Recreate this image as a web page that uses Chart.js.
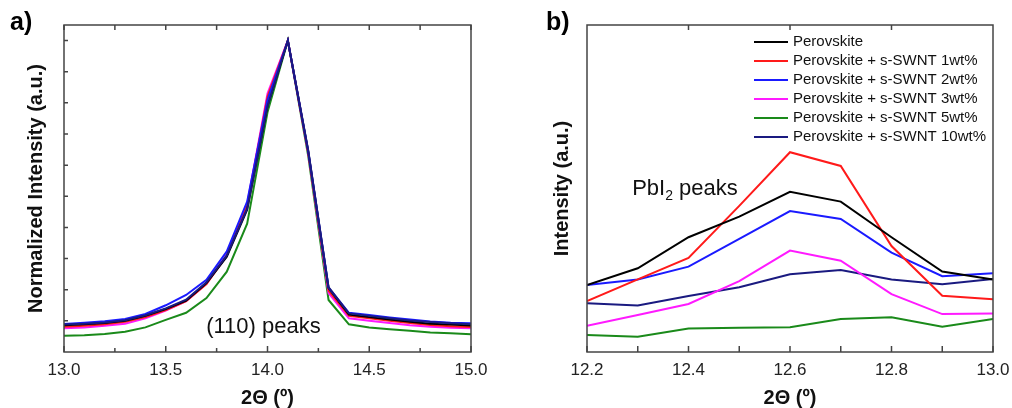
<!DOCTYPE html>
<html lang="en">
<head>
<meta charset="utf-8">
<script src="https://cdn.jsdelivr.net/npm/chart.js"></script>
<style>
  body { margin: 0; background: #fff; width: 1012px; height: 408px; overflow: hidden;
         font-family: 'Liberation Sans', Arial, sans-serif; }
  .panel { position: absolute; top: 0; height: 408px; }
  .tag { position: absolute; font-weight: bold; font-size: 25px; color: #000; }
</style>
</head>
<body>
<div class="panel" style="left:0;width:500px"><canvas id="chartA" width="500" height="408" style="width:500px;height:408px"></canvas></div>
<div class="panel" style="left:500px;width:512px"><canvas id="chartB" width="512" height="408" style="width:512px;height:408px"></canvas></div>
<div class="tag" style="left:10px;top:7px">a)</div>
<div class="tag" style="left:546px;top:7px">b)</div>

<script>
// ---- data ----
const seriesNames = ['Perovskite', 'Perovskite + s-SWNT 1wt%', 'Perovskite + s-SWNT 2wt%',
                     'Perovskite + s-SWNT 3wt%', 'Perovskite + s-SWNT 5wt%', 'Perovskite + s-SWNT 10wt%'];
const seriesColors = ['#000000', '#ff1a1a', '#1a1aff', '#ff1aff', '#1a8a1a', '#1a1a80'];

// panel a: (110) peak, normalized
const thetaA = [13.0, 13.1, 13.2, 13.3, 13.4, 13.5, 13.6, 13.7, 13.8, 13.9, 14.0,
                14.1, 14.2, 14.3, 14.4, 14.5, 14.6, 14.7, 14.8, 14.9, 15.0];
const aPero  = [0.086, 0.089, 0.093, 0.100, 0.116, 0.138, 0.165, 0.221, 0.306, 0.457, 0.790,
                1.000, 0.645, 0.205, 0.120, 0.112, 0.104, 0.097, 0.091, 0.088, 0.085];
const aWt1   = [0.081, 0.084, 0.089, 0.097, 0.112, 0.135, 0.163, 0.218, 0.310, 0.470, 0.820,
                1.000, 0.640, 0.197, 0.116, 0.108, 0.100, 0.093, 0.087, 0.083, 0.080];
const aWt2   = [0.090, 0.094, 0.099, 0.106, 0.122, 0.150, 0.183, 0.232, 0.323, 0.483, 0.810,
                1.000, 0.645, 0.207, 0.126, 0.119, 0.111, 0.104, 0.098, 0.094, 0.092];
const aWt3   = [0.076, 0.079, 0.084, 0.091, 0.108, 0.133, 0.163, 0.219, 0.312, 0.475, 0.830,
                1.000, 0.640, 0.189, 0.108, 0.100, 0.093, 0.086, 0.081, 0.078, 0.076];
const aWt5   = [0.052, 0.054, 0.058, 0.065, 0.079, 0.103, 0.126, 0.173, 0.258, 0.412, 0.770,
                1.000, 0.630, 0.167, 0.089, 0.079, 0.073, 0.068, 0.063, 0.060, 0.057];
const aWt10  = [0.088, 0.091, 0.095, 0.102, 0.118, 0.140, 0.168, 0.224, 0.310, 0.460, 0.790,
                1.000, 0.648, 0.208, 0.124, 0.116, 0.108, 0.101, 0.096, 0.092, 0.089];

// panel b: PbI2 peak, arbitrary units
const thetaB = [12.2, 12.3, 12.4, 12.5, 12.6, 12.7, 12.8, 12.9, 13.0];
const bPero  = [20.5, 25.6, 35.1, 41.4, 49.0, 46.0, 35.1, 24.6, 22.2];
const bWt1   = [15.6, 22.2, 28.8, 44.7, 61.1, 56.9, 32.4, 17.2, 16.1];
const bWt2   = [20.5, 22.2, 26.1, 34.6, 43.1, 40.7, 30.4, 23.2, 24.1];
const bWt3   = [ 8.0, 11.3, 14.7, 21.7, 31.0, 27.9, 17.7, 11.6, 11.8];
const bWt5   = [ 5.2,  4.7,  7.2,  7.4,  7.6, 10.1, 10.6,  7.7, 10.1];
const bWt10  = [14.9, 14.2, 17.1, 19.8, 23.8, 25.1, 22.2, 20.7, 22.3];

// ticks
const xLabelsA = [13.0, 13.5, 14.0, 14.5, 15.0];
const xMinorA  = [13.25, 13.75, 14.25, 14.75];
const yTicksA  = [0.1, 0.2, 0.3, 0.4, 0.5, 0.6, 0.7, 0.8, 0.9, 1.0];
const xLabelsB = [12.2, 12.4, 12.6, 12.8, 13.0];
const xMinorB  = [12.3, 12.5, 12.7, 12.9];

const FONT = "'Liberation Sans', Arial, Helvetica, sans-serif";

function toPoints(xs, ys) { return xs.map((x, i) => ({ x: x, y: ys[i] })); }

function makeSets(xs, arrays, orders) {
  return arrays.map((ys, i) => ({
    label: seriesNames[i],
    data: toPoints(xs, ys),
    borderColor: seriesColors[i],
    backgroundColor: seriesColors[i],
    borderWidth: 2,
    pointRadius: 0,
    tension: 0,
    order: orders[i]
  }));
}

// box, inward ticks and the in-plot annotation
function framePlugin(spec) {
  return {
    id: 'frame',
    afterDatasetsDraw(chart) {
      const { ctx, chartArea: a, scales: { x, y } } = chart;
      ctx.save();
      ctx.strokeStyle = '#444';
      ctx.lineWidth = 1.5;
      ctx.strokeRect(a.left, a.top, a.right - a.left, a.bottom - a.top);
      ctx.beginPath();
      spec.bottom.forEach(([v, len]) => {
        const px = x.getPixelForValue(v);
        ctx.moveTo(px, a.bottom); ctx.lineTo(px, a.bottom - len);
      });
      spec.top.forEach(([v, len]) => {
        const px = x.getPixelForValue(v);
        ctx.moveTo(px, a.top); ctx.lineTo(px, a.top + len);
      });
      spec.left.forEach(([v, len]) => {
        const py = y.getPixelForValue(v);
        ctx.moveTo(a.left, py); ctx.lineTo(a.left + len, py);
      });
      ctx.stroke();

      // annotation text
      const n = spec.note;
      const px = x.getPixelForValue(n.x), py = y.getPixelForValue(n.y);
      ctx.fillStyle = '#111';
      ctx.textBaseline = 'alphabetic';
      ctx.font = '22px ' + FONT;
      if (n.sub) {
        ctx.textAlign = 'left';
        let cx = px;
        ctx.fillText(n.text, cx, py); cx += ctx.measureText(n.text).width;
        ctx.font = '14px ' + FONT;
        ctx.fillText(n.sub, cx, py + 5); cx += ctx.measureText(n.sub).width;
        ctx.font = '22px ' + FONT;
        ctx.fillText(n.rest, cx, py);
      } else {
        ctx.textAlign = 'center';
        ctx.fillText(n.text, px, py);
      }
      ctx.restore();
    }
  };
}

const legendPlugin = {
  id: 'inLegend',
  afterDatasetsDraw(chart) {
    const { ctx, chartArea } = chart;
    const x0 = chartArea.left + 167, y0 = chartArea.top + 17;
    ctx.save();
    ctx.font = '15px ' + FONT;
    ctx.textBaseline = 'middle';
    ctx.textAlign = 'left';
    chart.data.datasets.forEach((ds, i) => {
      const yy = y0 + i * 19;
      ctx.strokeStyle = ds.borderColor;
      ctx.lineWidth = 2;
      ctx.beginPath(); ctx.moveTo(x0, yy); ctx.lineTo(x0 + 34, yy); ctx.stroke();
      ctx.fillStyle = '#111';
      ctx.fillText(ds.label, x0 + 39, yy);
    });
    ctx.restore();
  }
};

function xAxis(min, max, labels, title) {
  return {
    type: 'linear', min: min, max: max,
    grid: { display: false, drawTicks: false },
    border: { display: false },
    afterBuildTicks: s => { s.ticks = labels.map(v => ({ value: v })); },
    afterFit: s => { s.height = 56; s.paddingLeft = 0; s.paddingRight = 0; },
    ticks: { padding: 8, color: '#222', font: { family: FONT, size: 17 },
             maxRotation: 0, callback: v => v.toFixed(1) },
    title: { display: true, text: title, color: '#111', padding: { top: 0, bottom: 0 },
             font: { family: FONT, size: 20, weight: 'bold', lineHeight: 1.0 } }
  };
}

function yAxis(min, max, width, title, pad) {
  return {
    type: 'linear', min: min, max: max,
    grid: { display: false, drawTicks: false },
    border: { display: false },
    ticks: { display: false },
    afterFit: s => { s.width = width; },
    title: { display: true, text: title, color: '#111', padding: { top: pad, bottom: 0 },
             font: { family: FONT, size: 20, weight: 'bold' } }
  };
}

const common = {
  responsive: false,
  animation: false,
  plugins: { legend: { display: false }, tooltip: { enabled: false } }
};

new Chart(document.getElementById('chartA'), {
  type: 'line',
  data: { datasets: makeSets(thetaA, [aPero, aWt1, aWt2, aWt3, aWt5, aWt10], [2, 3, 1, 4, 5, 0]) },
  options: Object.assign({}, common, {
    layout: { padding: { top: 25, right: 29, left: 0, bottom: 0 } },
    scales: {
      x: xAxis(13.0, 15.0, xLabelsA, '2\u0398 (\u00BA)'),
      y: yAxis(0, 1.05, 64, 'Normalized Intensity (a.u.)', 24)
    }
  }),
  plugins: [framePlugin({
    bottom: xLabelsA.map(v => [v, 6]).concat(xMinorA.map(v => [v, 4])),
    top: xLabelsA.concat(xMinorA).map(v => [v, 5]),
    left: yTicksA.map(v => [v, 4]),
    note: { x: 13.98, y: 0.06, text: '(110) peaks' }
  })]
});

new Chart(document.getElementById('chartB'), {
  type: 'line',
  data: { datasets: makeSets(thetaB, [bPero, bWt1, bWt2, bWt3, bWt5, bWt10], [0, 1, 2, 3, 4, 5]) },
  options: Object.assign({}, common, {
    layout: { padding: { top: 25, right: 19, left: 0, bottom: 0 } },
    scales: {
      x: xAxis(12.2, 13.0, xLabelsB, '2\u0398 (\u00BA)'),
      y: yAxis(0, 100, 87, 'Intensity (a.u.)', 50)
    }
  }),
  plugins: [framePlugin({
    bottom: xLabelsB.concat(xMinorB).map(v => [v, 6]),
    top: [12.4, 12.6, 12.8].map(v => [v, 5]),
    left: [],
    note: { x: 12.289, y: 48, text: 'PbI', sub: '2', rest: ' peaks' }
  }), legendPlugin]
});
</script>
</body>
</html>
